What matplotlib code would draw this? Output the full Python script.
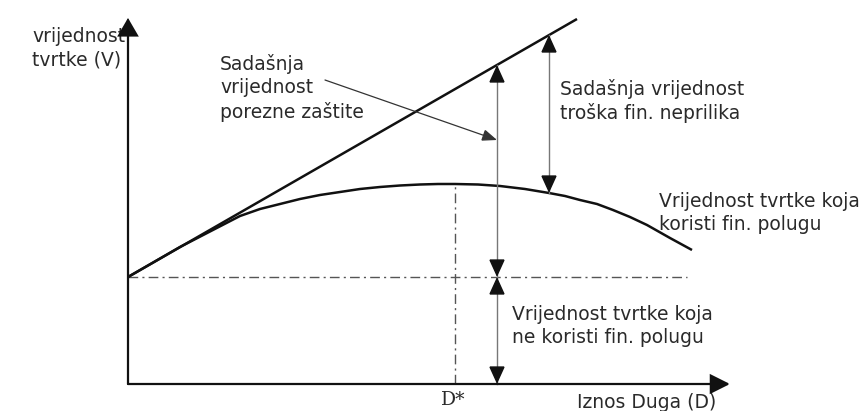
import matplotlib
matplotlib.use("Agg")
import matplotlib.pyplot as plt
from matplotlib.patches import FancyArrowPatch

plt.rcParams['font.family'] = ['DejaVu Sans']

# coordinates: debt D along x, firm value V along y (origin = axis corner)
# value of the levered firm (curve)
curve_d = [0, 52, 112, 132, 152, 172, 192, 212, 232, 252, 272, 292, 310, 327,
           350, 372, 397, 421, 437, 452, 469, 485, 502, 519, 542, 564]
curve_v = [107, 137, 168, 175, 180, 185, 189, 192, 195, 197, 198.5, 199.5, 200, 200,
           199.5, 198, 195, 191, 188, 184, 180, 174, 167, 159, 146, 134]

# value with tax shield only (straight line)
tax_d = [0, 449]
tax_v = [107, 365]

v_unlevered = 107       # value of the unlevered firm
unlevered_end = 559     # where the dash-dot level line stops
d_star = 327            # optimal debt D*
v_max = 200             # top of the curve

d_left, v_left_top = 369, 319                       # tax shield arrow
d_right, v_right_top, v_right_bot = 421, 349, 191   # distress cost arrow

note_from = (197, 304)  # pointer from the tax-shield label
note_to = (369, 244)

x_axis_end = 602
y_axis_end = 366

labels = {
    'v_axis': 'vrijednost\ntvrtke (V)',
    'tax': 'Sadašnja\nvrijednost\nporezne zaštite',
    'cost': 'Sadašnja vrijednost\ntroška fin. neprilika',
    'levered': 'Vrijednost tvrtke koja\nkoristi fin. polugu',
    'unlevered': 'Vrijednost tvrtke koja\nne koristi fin. polugu',
    'd_star': 'D*',
    'd_axis': 'Iznos Duga (D)',
}

fig = plt.figure(figsize=(8.62, 4.11), dpi=100)
ax = fig.add_axes([0, 0, 1, 1])
ax.set_xlim(-128, 734)
ax.set_ylim(-27, 384)
ax.axis('off')

txt = '#2a2a2a'
fs = 13.5
ls = 1.27


def arrow(p0, p1, style, color='#111111', lw=1.0, scale=20):
    ax.add_patch(FancyArrowPatch(p0, p1, arrowstyle=style, mutation_scale=scale,
                                 color=color, lw=lw, shrinkA=0, shrinkB=0,
                                 joinstyle='miter', zorder=4))


def double_arrow(x, v0, v1):
    # thin grey shaft, solid black heads at both ends
    ax.plot([x, x], [v0, v1], color='#777777', lw=1.0, zorder=3)
    s = 1 if v1 > v0 else -1
    style = '-|>,head_length=0.55,head_width=0.25'
    arrow((x, v0 + 15 * s), (x, v0), style)
    arrow((x, v1 - 15 * s), (x, v1), style)


# axes with arrow heads
arrow((0, 0), (x_axis_end, 0), '-|>,head_length=0.6,head_width=0.3', lw=1.6)
arrow((0, 0), (0, y_axis_end), '-|>,head_length=0.55,head_width=0.32', lw=1.6)

# dash-dot guides
dashdot = (0, (7, 3, 1.5, 3))
ax.plot([0, unlevered_end], [v_unlevered, v_unlevered], color='#555555', lw=1.0, ls=dashdot)
ax.plot([d_star, d_star], [0, v_max], color='#555555', lw=1.0, ls=dashdot)

# tax shield line and levered value curve
ax.plot(tax_d, tax_v, color='#111111', lw=1.8, solid_capstyle='butt')
ax.plot(curve_d, curve_v, color='#111111', lw=1.8, solid_capstyle='butt',
        solid_joinstyle='round')

# double arrows
double_arrow(d_left, v_unlevered, v_left_top)
double_arrow(d_left, v_unlevered, 0)
double_arrow(d_right, v_right_top, v_right_bot)

# pointer from label
arrow(note_from, note_to, '-|>,head_length=0.45,head_width=0.18', color='#333333', lw=0.9)

# labels
ax.text(-96, 336, labels['v_axis'], color=txt, fontsize=fs, va='center', ha='left', linespacing=ls)
ax.text(92, 296, labels['tax'], color=txt, fontsize=fs, va='center', ha='left', linespacing=ls)
ax.text(432, 283, labels['cost'], color=txt, fontsize=fs, va='center', ha='left', linespacing=ls)
ax.text(531, 171, labels['levered'], color=txt, fontsize=fs, va='center', ha='left', linespacing=ls)
ax.text(384, 58, labels['unlevered'], color=txt, fontsize=fs, va='center', ha='left', linespacing=ls)
ax.text(325, -16, labels['d_star'], color=txt, fontsize=fs, va='center', ha='center',
        family='DejaVu Serif')
ax.text(449, -18, labels['d_axis'], color=txt, fontsize=fs, va='center', ha='left')

fig.savefig('out.png', dpi=100)
